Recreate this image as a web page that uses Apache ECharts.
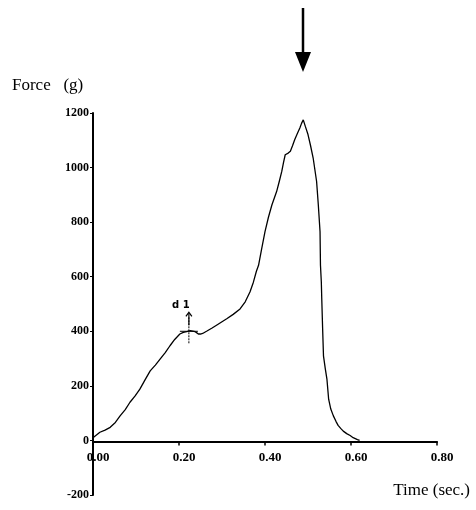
<!DOCTYPE html>
<html><head><meta charset="utf-8">
<script src="https://cdn.jsdelivr.net/npm/echarts@6/dist/echarts.min.js"></script>
<style>html,body{margin:0;padding:0;background:#fff}#c{width:476px;height:510px}</style>
</head><body><div id="c"></div>
<script>
var timeSec = [0.000,0.008,0.016,0.028,0.040,0.052,0.063,0.075,0.086,0.098,0.109,0.121,0.133,0.145,0.156,0.168,0.179,0.190,0.202,0.210,0.218,0.226,0.235,0.240,0.245,0.250,0.255,0.264,0.277,0.290,0.300,0.311,0.326,0.342,0.354,0.365,0.373,0.380,0.385,0.392,0.400,0.408,0.416,0.427,0.433,0.439,0.443,0.447,0.454,0.459,0.464,0.469,0.475,0.481,0.485,0.489,0.494,0.500,0.506,0.512,0.520,0.524,0.528,0.529,0.531,0.532,0.534,0.536,0.540,0.544,0.548,0.553,0.559,0.565,0.570,0.576,0.582,0.590,0.598,0.605,0.615,0.620];
var forceG  = [10,20,30,38,48,66,90,113,140,163,188,222,255,276,298,322,347,370,390,396,399,402,400,396,390,390,392,400,412,425,435,446,462,482,508,544,580,620,642,700,765,818,863,912,948,986,1018,1047,1053,1060,1080,1102,1124,1145,1162,1175,1150,1121,1080,1035,949,863,765,642,580,519,410,310,265,225,151,115,90,70,55,44,34,25,18,10,3,0];
var xTicks = [0, 0.8, 0.2];
var yTicks = [-200, 1200, 200];
var peakMark = [0.489, 1175];
var d1Mark = [0.223, 400];
var yTitle = 'Force   (g)';
var xTitle = 'Time (sec.)';
var d1Label = 'd 1';

var data = timeSec.map(function(t,i){return [t, forceG[i]];});
var chart = echarts.init(document.getElementById('c'));
var serif = '"Liberation Serif","DejaVu Serif",serif';
chart.setOption({
  animation:false,
  grid:{left:93,right:39,top:113,bottom:15},
  xAxis:{type:'value',min:xTicks[0],max:xTicks[1],interval:xTicks[2],position:'bottom',
    axisLine:{onZero:false,lineStyle:{color:'#000',width:2}},
    axisTick:{show:true,inside:false,length:4,lineStyle:{color:'#000',width:1.5}},
    axisLabel:{color:'#000',fontFamily:serif,fontWeight:'bold',fontSize:13,margin:10,padding:[0,0,0,10],
      formatter:function(v){return v.toFixed(2);}},
    splitLine:{show:false}},
  yAxis:{type:'value',min:yTicks[0],max:yTicks[1],interval:yTicks[2],
    axisLine:{show:true,lineStyle:{color:'#000',width:2}},
    axisTick:{show:true,length:3,lineStyle:{color:'#000',width:1}},
    axisLabel:{color:'#000',fontFamily:serif,fontWeight:'bold',fontSize:12,margin:4,
      formatter:function(v){return String(v);}},
    splitLine:{show:false}},
  series:[{type:'line',data:data,showSymbol:false,symbol:'none',
    lineStyle:{color:'#000',width:1.3},z:3}]
});

// move the x axis up to the zero line (axis + labels together)
var zeroY = chart.convertToPixel({yAxisIndex:0}, 0);
var botY = chart.convertToPixel({yAxisIndex:0}, yTicks[0]);
chart.setOption({xAxis:{offset:zeroY-botY}});

var pk = chart.convertToPixel({gridIndex:0}, peakMark);
var d1 = chart.convertToPixel({gridIndex:0}, d1Mark);
var ax = Math.round(pk[0]);
chart.setOption({graphic:[
  {type:'text',left:12,top:77,style:{text:yTitle,font:'17px '+serif,fill:'#000'}},
  {type:'text',right:6,top:482,style:{text:xTitle,font:'17px '+serif,fill:'#000'}},
  {type:'line',shape:{x1:ax,y1:8,x2:ax,y2:54},style:{stroke:'#000',lineWidth:2.5}},
  {type:'polygon',shape:{points:[[ax-8,52],[ax+8,52],[ax,72]]},style:{fill:'#000'}},
  {type:'line',shape:{x1:d1[0]-9,y1:d1[1],x2:d1[0]+9,y2:d1[1]},style:{stroke:'#000',lineWidth:1}},
  {type:'line',shape:{x1:d1[0],y1:d1[1]-14,x2:d1[0],y2:d1[1]+13},style:{stroke:'#000',lineWidth:1,lineDash:[2,1]}},
  {type:'line',shape:{x1:d1[0],y1:d1[1]-18,x2:d1[0],y2:d1[1]-6},style:{stroke:'#000',lineWidth:1.2}},
  {type:'polyline',shape:{points:[[d1[0]-3,d1[1]-15],[d1[0],d1[1]-19],[d1[0]+3,d1[1]-15]]},style:{stroke:'#000',lineWidth:1.2,fill:null}},
  {type:'text',x:d1[0]-8,y:d1[1]-26,style:{text:d1Label,font:'bold 10px "DejaVu Sans",sans-serif',fill:'#000',align:'center',verticalAlign:'middle'}}
]});
</script></body></html>
